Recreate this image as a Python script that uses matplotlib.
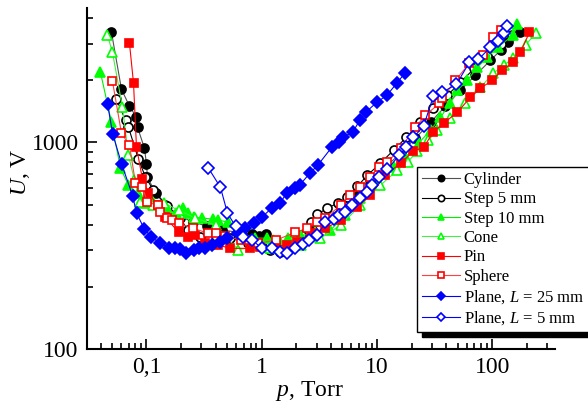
import numpy as np
import matplotlib
matplotlib.use('Agg')
import matplotlib.pyplot as plt
from matplotlib.ticker import LogLocator, NullFormatter

plt.rcParams['font.family'] = ['Liberation Serif', 'DejaVu Serif']
plt.rcParams['mathtext.fontset'] = 'custom'
plt.rcParams['mathtext.rm'] = 'Liberation Serif'
plt.rcParams['mathtext.it'] = 'Liberation Serif:italic'

# data: p in Torr, U in V
cyl_p = [0.0497, 0.0607, 0.0712, 0.0819, 0.0836, 0.0961, 0.100, 0.102, 0.120, 0.146, 0.190, 0.251,
         0.338, 0.456, 0.628, 0.830, 0.955, 1.08, 1.32, 1.70, 2.17, 2.75, 3.57, 4.82, 6.50, 8.76,
         11.8, 16.0, 21.5, 29.1, 39.2, 52.9, 71.4, 96.3, 118, 138, 172]
cyl_u = [3400, 1803, 1493, 1321, 1181, 935, 783, 678, 567, 496, 444, 411,
         393, 376, 367, 359, 352, 359, 322, 311, 336, 376, 420, 485, 555, 641,
         757, 885, 1045, 1249, 1493, 1783, 2107, 2489, 2782, 3042, 3400]

st5_p = [0.0549, 0.0658, 0.0698, 0.0852, 0.098, 0.115, 0.152, 0.197, 0.227, 0.294, 0.397, 0.535,
         0.767, 1.01, 1.19, 1.45, 1.85, 2.17, 2.65, 3.04, 3.71, 4.54, 5.54, 6.76, 8.26, 10.7,
         13.9, 18.0, 23.8, 30.8, 40.8, 52.9, 70.0, 90.7, 118, 149]
st5_u = [1614, 1277, 1181, 828, 678, 586, 491, 430, 376, 348, 352, 344,
         325, 311, 301, 294, 315, 355, 411, 449, 480, 507, 542, 613, 693, 792,
         915, 1057, 1249, 1460, 1687, 1949, 2278, 2603, 2975, 3289]

st10_p = [0.0399, 0.0497, 0.0595, 0.0698, 0.0836, 0.098, 0.115, 0.140, 0.155, 0.179, 0.209, 0.227,
          0.256, 0.306, 0.374, 0.421, 0.514, 0.654, 0.882, 1.12, 1.24, 1.45, 1.70, 2.17, 2.92,
          3.94, 5.32, 7.18, 9.69, 13.9, 17.6, 22.9, 29.1, 35.5, 43.3, 49.8, 60.8, 74.3, 90.7,
          111, 152, 165]
st10_u = [2178, 1249, 749, 620, 567, 507, 513, 496, 469, 454, 480, 454,
          434, 430, 425, 420, 411, 363, 344, 344, 336, 329, 344, 352, 367,
          376, 444, 536, 641, 757, 846, 989, 1143, 1321, 1543, 1783, 1993, 2303, 2574,
          2877, 3289, 3715]

cone_p = [0.0459, 0.0507, 0.0619, 0.0698, 0.0787, 0.0887, 0.113, 0.143, 0.190, 0.266, 0.397,
          0.628, 0.882, 1.19, 1.61, 2.17, 3.23, 4.82, 7.18, 10.7, 15.0, 18.4, 22.4, 27.9, 33.4,
          43.3, 58.4, 78.9, 102, 125, 152, 194, 237]
cone_u = [3289, 2721, 1476, 865, 655, 513, 496, 507, 469, 430, 397,
          301, 318, 307, 301, 318, 344, 397, 496, 620, 732, 801, 905, 1023, 1143,
          1306, 1543, 1843, 2154, 2355, 2546, 2942, 3363]

pin_p = [0.0712, 0.0772, 0.0819, 0.0923, 0.104, 0.125, 0.146, 0.190, 0.227, 0.266, 0.325, 0.421,
         0.535, 0.798, 0.974, 1.32, 1.67, 2.04, 2.65, 3.57, 4.82, 6.76, 8.76, 11.8, 16.0, 20.7,
         25.3, 30.8, 37.7, 49.8, 64.6, 78.9, 100, 122, 152, 175, 210]
pin_u = [3009, 1928, 946, 663, 567, 496, 434, 367, 348, 355, 325, 318,
         307, 307, 311, 315, 318, 329, 363, 384, 420, 485, 555, 693, 792, 905,
         946, 1118, 1235, 1396, 1650, 1823, 1993, 2227, 2435, 2721, 3400]

sph_p = [0.0507, 0.0607, 0.0712, 0.0803, 0.0923, 0.102, 0.125, 0.132, 0.152, 0.168, 0.190, 0.251,
         0.345, 0.397, 0.484, 0.654, 0.936, 1.32, 1.96, 2.49, 3.04, 3.57, 4.82, 5.88, 7.18, 8.76,
         10.3, 12.3, 16.0, 21.5, 26.3, 34.8, 36.9, 47.9, 63.3, 83.7, 102, 118]
sph_u = [1971, 1105, 967, 634, 606, 513, 496, 459, 430, 420, 406, 384,
         363, 363, 352, 336, 325, 336, 367, 384, 411, 430, 496, 555, 606, 678,
         757, 801, 935, 1181, 1350, 1543, 1632, 1993, 2408, 2633, 3216, 3476]

pl25_p = [0.046, 0.051, 0.061, 0.076, 0.082, 0.096, 0.11, 0.132, 0.158, 0.178, 0.197, 0.222,
          0.256, 0.283, 0.325, 0.373, 0.438, 0.504, 0.616, 0.722, 0.848, 1.0, 1.22, 1.43, 1.65,
          1.93, 2.13, 2.61, 3.06, 4.05, 4.65, 5.04, 6.15, 7.08, 7.98, 9.95, 12.2, 14.8, 17.4]
pl25_u = [1526, 1093, 783, 548, 454, 380, 348, 325, 307, 307, 304, 291,
          301, 307, 307, 318, 329, 344, 363, 384, 406, 434, 480, 507, 567,
          599, 620, 708, 774, 946, 1000, 1057, 1118, 1277, 1396, 1560, 1687, 1928, 2154]

pl5_p = [0.345, 0.438, 0.504, 0.592, 0.694, 0.831, 1.0, 1.22, 1.43, 1.65, 1.93, 2.30, 2.59,
         3.04, 3.57, 4.19, 4.72, 5.32, 6.12, 7.18, 8.26, 9.12, 10.3, 12.3, 15.6, 18.0, 20.7,
         25.3, 30.8, 36.9, 48.8, 63.3, 75.8, 96.3, 111, 125, 133]
pl5_u = [749, 606, 454, 393, 348, 336, 307, 307, 294, 291, 307, 322, 336,
         355, 411, 425, 444, 459, 496, 536, 574, 620, 678, 741, 865, 946, 1057,
         1195, 1668, 1744, 1906, 2435, 2518, 2877, 3076, 3363, 3635]

labels = ['Cylinder', 'Step 5 mm', 'Step 10 mm', 'Cone', 'Pin', 'Sphere',
          'Plane, $L$ = 25 mm', 'Plane, $L$ = 5 mm']

fig = plt.figure(figsize=(5.88, 4.05), dpi=100)
ax = fig.add_axes([0.148, 0.138, 0.796, 0.842])

series = [
    (cyl_p, cyl_u, 'o', '#505050', 'black', 'black', 6.5),
    (st5_p, st5_u, 'o', 'black', 'white', 'black', 6.5),
    (st10_p, st10_u, '^', '#00ee00', '#00ff00', '#00ff00', 7),
    (cone_p, cone_u, '^', '#44ee44', 'white', '#00ff00', 7),
    (pin_p, pin_u, 's', '#ff0000', '#ff0000', '#ff0000', 6),
    (sph_p, sph_u, 's', '#ff4040', 'white', '#ff0000', 6),
    (pl25_p, pl25_u, 'D', '#0000ff', '#0000ff', '#0000ff', 6),
    (pl5_p, pl5_u, 'D', '#0000ff', 'white', '#0000ff', 6),
]
for (p, u, m, lc, fc, ec, ms), lab in zip(series, labels):
    ax.plot(p, u, color=lc, lw=0.8, marker=m, ms=ms, mfc=fc, mec=ec, mew=1.2, label=lab)

ax.set_xscale('log')
ax.set_yscale('log')
ax.set_xlim(0.0305, 350)
ax.set_ylim(100, 4450)

ax.set_xticks([0.1, 1, 10, 100], ['0,1', '1', '10', '100'])
ax.set_yticks([100, 1000], ['100', '1000'])
ax.xaxis.set_minor_locator(LogLocator(base=10, subs=np.arange(2, 10)))
ax.yaxis.set_minor_locator(LogLocator(base=10, subs=np.arange(2, 10)))
ax.xaxis.set_minor_formatter(NullFormatter())
ax.yaxis.set_minor_formatter(NullFormatter())

ax.tick_params(which='both', direction='in', width=1.2, labelsize=17, colors='black')
ax.tick_params(which='major', length=7, pad=6)
ax.tick_params(which='minor', length=4)

for s in ['top', 'right']:
    ax.spines[s].set_visible(False)
for s in ['left', 'bottom']:
    ax.spines[s].set_linewidth(1.5)

ax.set_xlabel('$p$, Torr', fontsize=17, labelpad=1)
ax.set_ylabel('$U$, V', fontsize=17, labelpad=2)
ax.xaxis.set_label_coords(0.476, -0.088)
ax.yaxis.set_label_coords(-0.118, 0.52)

leg = ax.legend(loc='upper left', bbox_to_anchor=(417 / 588, 1 - 167 / 405),
                bbox_transform=fig.transFigure, fontsize=12, frameon=True,
                fancybox=False, edgecolor='black', framealpha=1,
                shadow={'ox': 3.5, 'oy': -3.5, 'color': 'black', 'alpha': 1},
                borderpad=0.3, labelspacing=0.2, handlelength=2.3, handletextpad=0.2,
                borderaxespad=0, markerscale=0.7)
leg.get_frame().set_linewidth(1.0)

fig.savefig('out.png', dpi=100)
